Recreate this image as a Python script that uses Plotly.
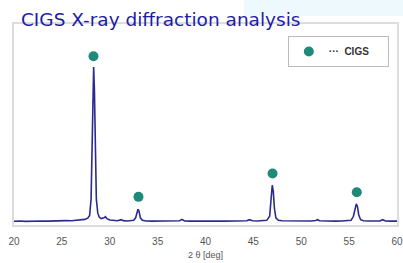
import plotly.graph_objects as go

# XRD profile (2θ in degrees, intensity in arbitrary units)
two_theta = [20.0, 20.6, 21.2, 21.8, 22.4, 23.0, 23.6, 24.2, 24.8, 25.4, 26.0, 26.6, 27.0, 27.4, 27.7, 27.9,
             28.05, 28.15, 28.25, 28.32, 28.4, 28.5, 28.6, 28.75, 28.9, 29.1, 29.4, 29.55, 29.7, 30.0, 30.4,
             30.8, 31.2, 31.4, 31.8, 32.2, 32.5, 32.7, 32.85, 32.95, 33.05, 33.2, 33.4, 33.8, 34.4, 35.0, 35.6,
             36.2, 36.8, 37.3, 37.55, 37.8, 38.4, 39.0, 39.6, 40.2, 40.8, 41.4, 42.0, 42.6, 43.2, 43.8, 44.3,
             44.6, 44.9, 45.4, 46.0, 46.4, 46.7, 46.85, 46.97, 47.08, 47.2, 47.35, 47.6, 48.0, 48.6, 49.2,
             49.8, 50.4, 51.0, 51.5, 51.7, 51.9, 52.4, 53.0, 53.6, 54.2, 54.8, 55.2, 55.45, 55.6, 55.75,
             55.88, 56.0, 56.2, 56.5, 57.0, 57.6, 58.2, 58.5, 58.8, 59.4, 60.0]
intensity = [8, 10, 7, 9, 8, 10, 9, 11, 10, 12, 11, 14, 16, 20, 28, 45,
             150, 500, 900, 1000, 850, 420, 150, 60, 35, 25, 30, 38, 25, 16, 12,
             11, 18, 12, 10, 11, 14, 30, 70, 85, 75, 30, 14, 10, 9, 10, 9,
             10, 9, 11, 20, 10, 9, 10, 9, 10, 9, 10, 9, 10, 9, 10, 11,
             18, 11, 10, 11, 14, 40, 150, 240, 200, 90, 30, 14, 11, 10, 9,
             10, 9, 10, 13, 18, 11, 9, 10, 9, 10, 11, 14, 40, 90, 120,
             100, 50, 18, 11, 10, 9, 10, 18, 10, 9, 9]

# CIGS peak markers
peak_pos = [28.3, 33.0, 47.0, 55.8]
peak_marker_y = [1070, 165, 315, 195]

x_ticks = [20, 25, 30, 35, 40, 45, 50, 55, 60]

fig = go.Figure()
fig.add_trace(go.Scatter(x=two_theta, y=intensity, mode="lines",
                         line=dict(color="#2b2b8f", width=1.6),
                         showlegend=False, hoverinfo="skip"))
fig.add_trace(go.Scatter(x=peak_pos, y=peak_marker_y, mode="markers",
                         marker=dict(color="#1f8a7a", size=10),
                         name="<b>···  CIGS</b>     "))

fig.update_layout(
    width=403, height=263,
    margin=dict(l=14, r=6, t=24, b=38, autoexpand=False),
    paper_bgcolor="white", plot_bgcolor="white",
    font=dict(family="Liberation Sans, Arial, sans-serif"),
    title=dict(text="CIGS X-ray diffraction analysis", x=0.052, xanchor="left",
               y=0.9, yanchor="bottom",
               font=dict(family="DejaVu Sans", size=18.5, color="#1c1ca8")),
    xaxis=dict(range=[20, 60], tickvals=x_ticks, ticktext=[str(t) for t in x_ticks],
               showgrid=False, zeroline=False, showline=True, linecolor="#dddddd",
               linewidth=2, mirror=True, ticks="", automargin=False,
               ticklabeloverflow="allow", ticklabelstandoff=6,
               tickfont=dict(size=10, color="#555555"),
               title=dict(text="2 θ [deg]", font=dict(size=9, color="#555555"), standoff=6)),
    yaxis=dict(range=[-16, 1277], showticklabels=False, showgrid=False, zeroline=False,
               automargin=False,
               showline=True, linecolor="#dddddd", linewidth=2, mirror=True, ticks=""),
    legend=dict(x=0.715, y=0.94, xanchor="left", yanchor="top",
                bgcolor="white", bordercolor="#bbbbbb", borderwidth=1,
                font=dict(size=10, color="#333333"), itemwidth=30),
    shapes=[dict(type="rect", xref="paper", yref="paper", x0=0.6, x1=1.08, y0=1.04, y1=1.2,
                 fillcolor="#eef9fd", line=dict(width=0), layer="below")],
)

fig.write_html("out.html", config={"displayModeBar": False},
               post_script="document.body.style.margin='0';")
